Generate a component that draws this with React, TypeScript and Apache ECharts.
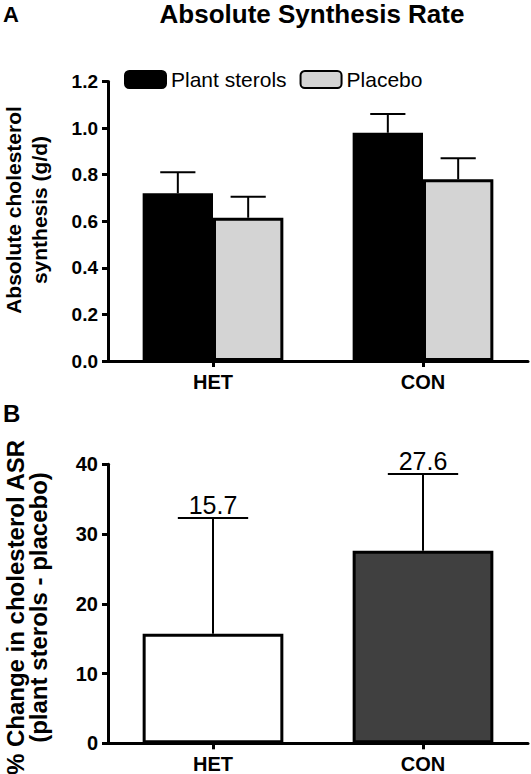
import React, { useEffect, useRef } from "react";
import * as echarts from "echarts";

const categories = ["HET", "CON"];
const plantSterols = [0.72, 0.98];
const plantSterolsErr = [0.09, 0.08];
const placebo = [0.615, 0.78];
const placeboErr = [0.09, 0.09];
const pctChange = [15.7, 27.6];
const pctChangeErr = [16.6, 11.0];
const yTicksA = { min: 0, max: 1.2, interval: 0.2 };
const yTicksB = { min: 0, max: 40, interval: 10 };

const FONT = "Liberation Sans, Arial, Helvetica, sans-serif";
const GAP_A = 0.33;
const GAP_B = 0.33;

function errorRenderer(gap: number, nBars: number, withLabel: boolean) {
  return (params: any, api: any) => {
    const cat = api.value(0);
    const val = api.value(1);
    const err = api.value(2);
    const side = api.value(3);
    const base = api.coord([cat, val]);
    const top = api.coord([cat, val + err]);
    const band = api.size([1, 0])[0];
    const barW = (band * (1 - gap)) / nBars;
    const cx = base[0] + (side * barW) / 2;
    const half = barW / 4;
    const lineStyle = { stroke: "#000", lineWidth: 2 };
    const children: any[] = [
      { type: "line", shape: { x1: cx, y1: base[1], x2: cx, y2: top[1] }, style: lineStyle },
      { type: "line", shape: { x1: cx - half, y1: top[1], x2: cx + half, y2: top[1] }, style: lineStyle },
    ];
    if (withLabel) {
      children.push({
        type: "text",
        x: cx,
        y: top[1] - 1,
        style: {
          text: val.toFixed(1),
          fontSize: 25,
          fontFamily: FONT,
          fill: "#000",
          textAlign: "center",
          textVerticalAlign: "bottom",
        },
      });
    }
    return { type: "group", children };
  };
}

export default function App() {
  const ref = useRef<HTMLDivElement>(null);
  useEffect(() => {
    document.body.style.margin = "0";
    if (!ref.current) return;
    const chart = echarts.init(ref.current, null, { renderer: "svg" });

    const axisLine = { show: true, lineStyle: { color: "#000", width: 3 } };
    const yAxisCommon = (t: any, gridIndex: number, fontSize: number, fmt: (v: number) => string) => ({
      type: "value",
      gridIndex,
      min: t.min,
      max: t.max,
      interval: t.interval,
      axisLine,
      axisTick: { show: true, length: 6, lineStyle: { color: "#000", width: 3 } },
      splitLine: { show: false },
      axisLabel: {
        color: "#000",
        fontSize,
        fontWeight: "bold",
        fontFamily: FONT,
        margin: 10,
        formatter: fmt,
      },
    });
    const xAxisCommon = (gridIndex: number) => ({
      type: "category",
      gridIndex,
      data: categories,
      axisLine,
      axisTick: { show: true, alignWithLabel: true, length: 6, lineStyle: { color: "#000", width: 3 } },
      axisLabel: { color: "#000", fontSize: 20, fontWeight: "bold", fontFamily: FONT, margin: 11 },
    });

    const errA: any[] = [];
    categories.forEach((_, i) => errA.push([i, plantSterols[i], plantSterolsErr[i], -1]));
    categories.forEach((_, i) => errA.push([i, placebo[i], placeboErr[i], 1]));
    const errB = categories.map((_, i) => [i, pctChange[i], pctChangeErr[i], 0]);
    const colorsB = ["#ffffff", "#404040"];

    const option: any = {
      animation: false,
      backgroundColor: "#fff",
      textStyle: { fontFamily: FONT },
      grid: [
        { left: 108, right: 3, top: 81.5, height: 279.5, outerBoundsMode: "none", containLabel: false },
        { left: 108, right: 3, top: 464.3, height: 279, outerBoundsMode: "none", containLabel: false },
      ],
      legend: {
        data: ["Plant sterols", "Placebo"],
        left: 119,
        top: 64,
        itemWidth: 41,
        itemHeight: 17,
        itemGap: 13,
        textStyle: { fontSize: 21, color: "#000", fontFamily: FONT },
      },
      xAxis: [xAxisCommon(0), xAxisCommon(1)],
      yAxis: [
        yAxisCommon(yTicksA, 0, 19, (v: number) => v.toFixed(1)),
        yAxisCommon(yTicksB, 1, 20, (v: number) => String(v)),
      ],
      graphic: [
        {
          type: "text",
          x: 312,
          y: 14,
          style: {
            text: "Absolute Synthesis Rate",
            fontSize: 26,
            fontWeight: "bold",
            fontFamily: FONT,
            fill: "#000",
            textAlign: "center",
            textVerticalAlign: "middle",
          },
        },
        {
          type: "text",
          x: 3,
          y: 14.5,
          style: { text: "A", fontSize: 22, fontWeight: "bold", fontFamily: FONT, fill: "#000", textAlign: "left", textVerticalAlign: "middle" },
        },
        {
          type: "text",
          x: 3,
          y: 413.5,
          style: { text: "B", fontSize: 24, fontWeight: "bold", fontFamily: FONT, fill: "#000", textAlign: "left", textVerticalAlign: "middle" },
        },
        {
          type: "text",
          x: 26,
          y: 210,
          rotation: Math.PI / 2,
          style: {
            text: "Absolute cholesterol\nsynthesis (g/d)",
            fontSize: 21,
            lineHeight: 26,
            fontWeight: "bold",
            fontFamily: FONT,
            fill: "#000",
            textAlign: "center",
            textVerticalAlign: "middle",
          },
        },
        {
          type: "text",
          x: 27,
          y: 607.5,
          rotation: Math.PI / 2,
          style: {
            text: "% Change in cholesterol ASR\n(plant sterols - placebo)",
            fontSize: 24,
            lineHeight: 23,
            fontWeight: "bold",
            fontFamily: FONT,
            fill: "#000",
            textAlign: "center",
            textVerticalAlign: "middle",
          },
        },
      ],
      series: [
        {
          name: "Plant sterols",
          type: "bar",
          xAxisIndex: 0,
          yAxisIndex: 0,
          data: plantSterols,
          barGap: "0%",
          barCategoryGap: GAP_A * 100 + "%",
          itemStyle: { color: "#000", borderColor: "#000", borderWidth: 3 },
        },
        {
          name: "Placebo",
          type: "bar",
          xAxisIndex: 0,
          yAxisIndex: 0,
          data: placebo,
          barGap: "0%",
          barCategoryGap: GAP_A * 100 + "%",
          itemStyle: { color: "#d4d4d4", borderColor: "#000", borderWidth: 3 },
        },
        {
          name: "errA",
          type: "custom",
          xAxisIndex: 0,
          yAxisIndex: 0,
          data: errA,
          encode: { x: 0, y: 1 },
          renderItem: errorRenderer(GAP_A, 2, false),
          z: 3,
          silent: true,
        },
        {
          name: "% change",
          type: "bar",
          xAxisIndex: 1,
          yAxisIndex: 1,
          data: pctChange.map((v, i) => ({ value: v, itemStyle: { color: colorsB[i] } })),
          barCategoryGap: GAP_B * 100 + "%",
          itemStyle: { borderColor: "#000", borderWidth: 3 },
        },
        {
          name: "errB",
          type: "custom",
          xAxisIndex: 1,
          yAxisIndex: 1,
          data: errB,
          encode: { x: 0, y: 1 },
          renderItem: errorRenderer(GAP_B, 1, true),
          z: 3,
          silent: true,
        },
      ],
    };
    chart.setOption(option);
    return () => chart.dispose();
  }, []);
  return <div ref={ref} style={{ width: 531, height: 774 }} />;
}
